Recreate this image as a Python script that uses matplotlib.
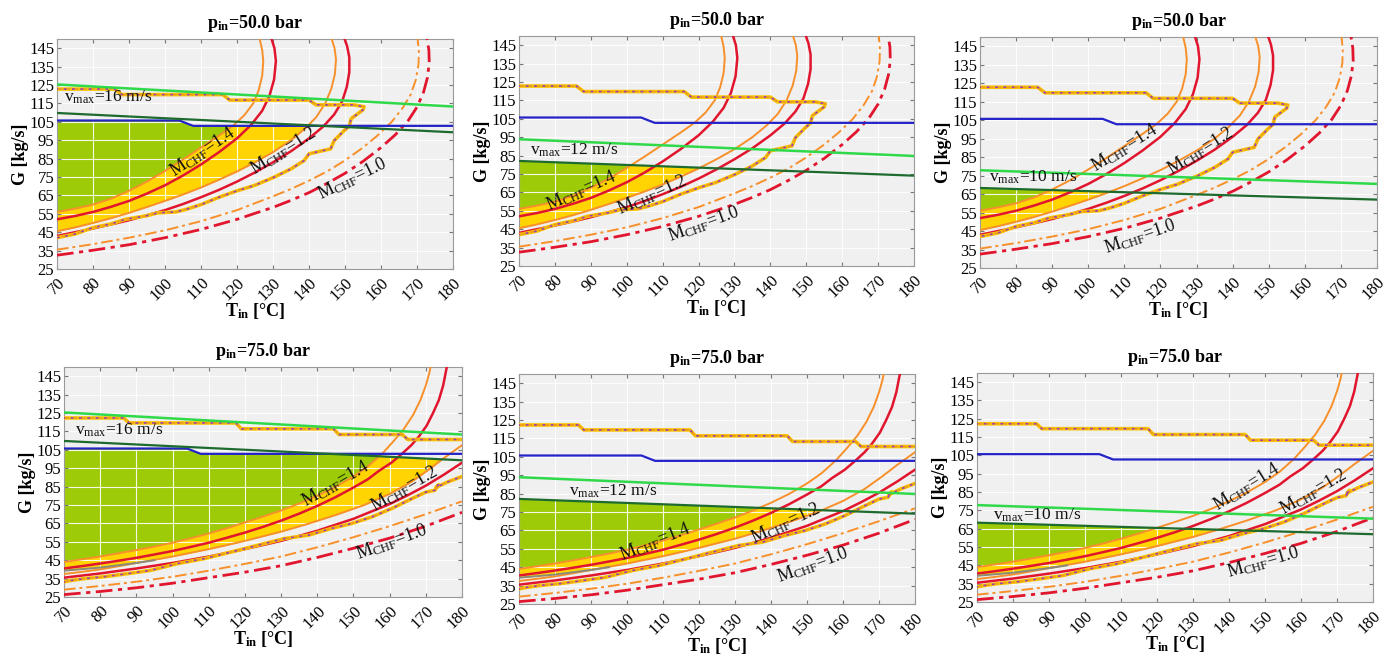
import matplotlib.pyplot as plt
import numpy as np

plt.rcParams['font.family'] = ['Liberation Serif', 'DejaVu Serif']
plt.rcParams['mathtext.fontset'] = 'custom'
plt.rcParams['mathtext.rm'] = 'Liberation Serif'
plt.rcParams['mathtext.it'] = 'Liberation Serif:italic'
plt.rcParams['mathtext.bf'] = 'Liberation Serif:bold'

# ---- p_in = 50 bar : M_CHF iso-lines (T_in [C], G [kg/s]) ----
T_o14_50 = [70, 75, 80, 85, 90, 95, 100, 105, 110, 115, 119, 122, 124.5, 126, 127, 127.3, 127, 126.3]
G_o14_50 = [56, 57.8, 60, 63.2, 67.5, 72.5, 78.3, 84.5, 91, 97.5, 103, 108.5, 115, 122, 130, 138, 144, 150]
T_r14_50 = [70, 75, 80, 85, 90, 95, 100, 105, 110, 115, 120, 124, 127, 129, 130.3, 130.8, 130.4, 129.6]
G_r14_50 = [52, 53.8, 56, 58.8, 62, 66, 70.5, 75.8, 81.8, 88.5, 96, 103.5, 111, 119, 128, 138, 145, 150]
T_o12_50 = [70, 75, 80, 85, 90, 95, 100, 105, 110, 115, 120, 125, 130, 135, 139, 142, 144.5,
            146.2, 147.2, 147.5, 147.1, 146.3]
G_o12_50 = [45.5, 47.6, 50, 52.6, 55.5, 58.7, 62, 65.5, 69.3, 73.5, 78, 83, 88.5, 95, 101.5,
            107.5, 115, 123, 131, 139, 145, 150]
T_r12_50 = [70, 75, 80, 85, 90, 95, 100, 105, 110, 115, 120, 125, 130, 135, 140, 144, 147,
            149.2, 150.5, 151.2, 151.2, 150.6, 149.9]
G_r12_50 = [43, 45, 47, 49.2, 51.5, 54.2, 57, 60.3, 64, 68, 72.5, 77.5, 83, 89, 96, 102.5, 109,
            116, 124, 132, 140, 146, 150]
T_o10_50 = [70, 80, 90, 100, 110, 120, 130, 135, 140, 145, 150, 155, 159, 163, 166, 168.3,
            169.7, 170.4, 170.5, 170.2]
G_o10_50 = [35.5, 38.5, 42, 46, 51, 57, 64.5, 68.5, 73, 78, 84, 91, 97.5, 105, 112.5, 120,
            128, 136, 143, 150]
T_r10_50 = [70, 80, 90, 100, 110, 120, 130, 135, 140, 145, 150, 155, 160, 164, 167.5, 170,
            171.8, 172.9, 173.4, 173.3, 172.8]
G_r10_50 = [32.5, 35.2, 38.2, 42, 46.5, 52, 58.5, 62.3, 66.5, 71.5, 77, 83.5, 91, 98, 105.5,
            113, 121, 129, 137, 144, 150]
# stepped limit (closed loop at 50 bar)
T_st_50 = [70, 86, 88, 116, 118, 140, 142, 152.5, 155.3, 155, 151.7, 151.2, 149.8, 147,
           146, 140, 138.7, 135, 130.3, 124.7, 120, 115, 110, 106, 103, 98, 95, 89, 85,
           80, 75, 70]
G_st_50 = [122.8, 122.8, 119.8, 119.8, 116.8, 116.8, 114.2, 114.2, 113.2, 111.5, 106.7,
           102.7, 100.3, 94.8, 90.3, 87.6, 84, 79.4, 74.9, 70.3, 67.5, 64, 60, 57.5, 56,
           55.5, 54, 52, 49.5, 47.5, 44, 42]

# ---- p_in = 75 bar ----
T_o14_75 = [70, 75, 80, 85, 90, 95, 100, 105, 110, 115, 120, 125, 130, 135, 140, 145, 150,
            154, 158, 161, 164, 166.5, 168.5, 170, 171, 171.3]
G_o14_75 = [44, 45.5, 47, 48.7, 50.5, 52.4, 54.5, 56.9, 59.5, 62.4, 65.5, 68.7, 72, 75.8, 80,
            84.8, 90.5, 96, 103, 109.5, 116.5, 124, 132, 140, 147, 150]
T_r14_75 = [70, 75, 80, 85, 90, 95, 100, 105, 110, 115, 120, 125, 130, 135, 140, 145, 150,
            154, 157, 160.5, 163.5, 166, 168, 170.2, 172, 173.6, 174.8, 175.8]
G_r14_75 = [40.5, 41.8, 43.2, 44.7, 46.3, 48.1, 50, 52.2, 54.5, 57.2, 60, 63.1, 66.5, 70.3,
            74.5, 79.2, 84.5, 89, 93.5, 98, 103, 107.5, 112, 118, 125, 132, 140, 150]
T_o12_75 = [70, 75, 80, 85, 90, 95, 100, 105, 110, 115, 120, 125, 130, 137, 145, 153, 160,
            166, 171, 175, 180]
G_o12_75 = [37.5, 38.7, 40, 41.7, 43.5, 45.2, 47, 49, 51, 53.2, 55.5, 58, 60.5, 64.5, 69.5,
            75, 81, 87.5, 94.5, 100.5, 107.5]
T_r12_75 = [70, 80, 90, 100, 110, 120, 130, 140, 150, 160, 165, 170, 175, 180]
G_r12_75 = [35.5, 37.8, 40.5, 43.5, 47, 51, 55.5, 61, 67.5, 75.5, 80.3, 85.5, 91.5, 98]
T_o10_75 = [70, 80, 90, 100, 110, 120, 130, 140, 150, 160, 170, 180]
G_o10_75 = [29, 31, 33.3, 36, 39.3, 43, 47, 52, 57.5, 63.5, 70, 77]
T_r10_75 = [70, 80, 90, 100, 110, 120, 130, 140, 150, 160, 170, 180]
G_r10_75 = [26.3, 28, 30, 32.5, 35.5, 38.5, 42, 46.5, 51.5, 57, 63.5, 71]
T_stu_75 = [70, 86.5, 88, 117.5, 119, 144.5, 146, 163.5, 165, 180]
G_stu_75 = [122.3, 122.3, 119.6, 119.6, 116.4, 116.4, 113.3, 113.3, 110.6, 110.6]
T_stl_75 = [70, 72, 75.6, 81, 87.6, 94, 101.5, 108.9, 116.3, 123.7, 131, 137.6, 144, 149.6,
            155.2, 160.7, 166.3, 170, 172.5, 173.5, 172.8, 176, 180]
G_stl_75 = [33.2, 34, 35, 36, 37.7, 39.5, 43.2, 45.9, 49.5, 53.2, 56.8, 58.6, 62.3, 65,
            68.6, 73.2, 78.6, 82, 83, 86, 84.5, 87.5, 90.5]
T_gray_75 = [70, 80, 90, 95]
G_gray_75 = [39.3, 41, 43.5, 45]

# ---- limits common to all panels ----
T_blue = [70, 104, 107.8, 180]
G_blue = [105.7, 105.7, 102.8, 102.8]
T_vmax = [70, 180]
vmax_names = ['16', '12', '10']
G_vmax_hi = [[125.3, 113.3], [93.9, 84.8], [77.9, 70.5]]
G_vmax_lo = [[109.8, 99.3], [82.1, 74.1], [68.3, 62.0]]
pressures = ['50.0', '75.0']

curves = {
    0: dict(o14=(T_o14_50, G_o14_50), r14=(T_r14_50, G_r14_50), o12=(T_o12_50, G_o12_50),
            r12=(T_r12_50, G_r12_50), o10=(T_o10_50, G_o10_50), r10=(T_r10_50, G_r10_50)),
    1: dict(o14=(T_o14_75, G_o14_75), r14=(T_r14_75, G_r14_75), o12=(T_o12_75, G_o12_75),
            r12=(T_r12_75, G_r12_75), o10=(T_o10_75, G_o10_75), r10=(T_r10_75, G_r10_75)),
}

# layout (pixel boxes: left, top, right, bottom)
W, H = 1397, 663
boxes = [[(57, 39, 453, 269), (519, 36, 914, 266), (980, 37, 1377, 268)],
         [(64, 367, 462, 597), (519, 374, 915, 604), (977, 373, 1373, 602)]]
vlab_pos = [[(72, 116), (73, 85.5), (72.5, 71.5)], [(73, 113), (84, 84), (74.5, 70)]]
# (T, G, rotation) of the M_CHF=1.4 / 1.2 / 1.0 labels
mlab = [[[(110.5, 89, 34), (133, 89, 32), (152, 74, 26)],
         [(87.5, 66, 24), (107, 63.5, 24), (121.5, 48, 20)],
         [(110, 90, 32), (131, 88.5, 32), (114.5, 42, 19)]],
        [[(145, 86.5, 30), (164, 84, 30), (160.5, 55, 20)],
         [(108, 59, 22), (144, 69, 25), (151.5, 46.5, 20)],
         [(145, 88, 32), (163.5, 85, 30), (149.5, 47, 16)]]]

c_or = '#f7902a'
c_red = '#e1152d'
c_fill_g = '#9dcb08'
c_fill_y = '#ffd400'

Tg = np.linspace(70, 180, 600)


def lower_branch(T, G):
    k = int(np.argmax(T))
    return np.interp(Tg, T[:k + 1], G[:k + 1])


fig = plt.figure(figsize=(W / 100, H / 100), dpi=100)

for row in range(2):
    cv = curves[row]
    for col in range(3):
        l, t, r, b = boxes[row][col]
        ax = fig.add_axes([l / W, 1 - b / H, (r - l) / W, (b - t) / H])
        ax.set_facecolor('#f0f0f0')

        # fills
        cap = np.minimum(np.interp(Tg, T_blue, G_blue), np.interp(Tg, T_vmax, G_vmax_lo[col]))
        o14 = lower_branch(*cv['o14'])
        o12 = lower_branch(*cv['o12'])
        if row == 1:
            gl = np.interp(Tg, T_gray_75, G_gray_75, right=0)
            o12 = np.maximum(o12, gl)
        ax.fill_between(Tg, o14, cap, where=cap > o14, color=c_fill_g, lw=0, zorder=1)
        top_y = np.minimum(o14, cap)
        ax.fill_between(Tg, o12, top_y, where=top_y > o12, color=c_fill_y, lw=0, zorder=1)

        # M_CHF curves
        ax.plot(*cv['o14'], color=c_or, lw=1.4, zorder=3)
        ax.plot(*cv['r14'], color=c_red, lw=1.8, zorder=3)
        ax.plot(*cv['o12'], color=c_or, lw=1.4, zorder=3)
        ax.plot(*cv['r12'], color=c_red, lw=1.8, zorder=3)
        ax.plot(*cv['o10'], color=c_or, lw=1.4, ls=(0, (6, 2, 1.5, 2)), zorder=3)
        ax.plot(*cv['r10'], color=c_red, lw=2.0, ls=(0, (6, 2, 1.5, 2)), zorder=3)

        # stepped limit
        if row == 0:
            st = [(T_st_50, G_st_50)]
        else:
            st = [(T_stu_75, G_stu_75), (T_stl_75, G_stl_75)]
            ax.plot(T_gray_75, G_gray_75, color='#8a8a7a', lw=1.4, zorder=3)
        for Ts, Gs in st:
            ax.plot(Ts, Gs, color='#f7c400', lw=2.6, zorder=4)
            ax.plot(Ts, Gs, color='#ee9a20', lw=1.2, ls=(0, (3, 2)), zorder=4)
            ax.plot(Ts, Gs, color='#9b3db4', lw=1.2, ls=(1, (1.6, 3.4)), zorder=5)

        # limit lines
        ax.plot(T_blue, G_blue, color='#2323c8', lw=1.6, zorder=6)
        ax.plot(T_vmax, G_vmax_hi[col], color='#2fd94a', lw=1.8, zorder=6)
        ax.plot(T_vmax, G_vmax_lo[col], color='#1d6b2e', lw=1.6, zorder=6)

        vx, vy = vlab_pos[row][col]
        ax.text(vx, vy, r'v$_{\mathregular{max}}$=' + vmax_names[col] + ' m/s',
                fontsize=12.5, color='#111111', zorder=7)
        for (mx, my, rot), m in zip(mlab[row][col], ['1.4', '1.2', '1.0']):
            ax.text(mx, my, r'M$_{\mathregular{CHF}}$=' + m, fontsize=13, rotation=rot,
                    ha='center', va='center', rotation_mode='anchor', color='#111111', zorder=7)

        ax.set_xlim(70, 180)
        ax.set_ylim(25, 150)
        ax.set_xticks(np.arange(70, 181, 10))
        ax.set_yticks(np.arange(25, 146, 10))
        ax.set_xticklabels([str(v) for v in range(70, 181, 10)], rotation=45,
                           ha='right', va='top', rotation_mode='anchor')
        ax.set_axisbelow('line')
        ax.grid(True, color='white', lw=0.8, alpha=0.9)
        ax.tick_params(direction='in', length=3, labelsize=12, color='#777777', pad=2,
                       top=True, right=True)
        ax.tick_params(axis='x', pad=4)
        for s in ax.spines.values():
            s.set_color('#9a9a9a')
            s.set_linewidth(0.8)
        ax.set_title(r'$\mathbf{p_{in}}$=' + pressures[row] + ' bar', fontsize=13,
                     fontweight='bold', pad=8)
        ax.set_xlabel(r'$\mathbf{T_{in}}$ [°C]', fontsize=13, fontweight='bold', labelpad=-2)
        ax.set_ylabel('G [kg/s]', fontsize=13, fontweight='bold', labelpad=0)

fig.savefig('out.png', dpi=100)
